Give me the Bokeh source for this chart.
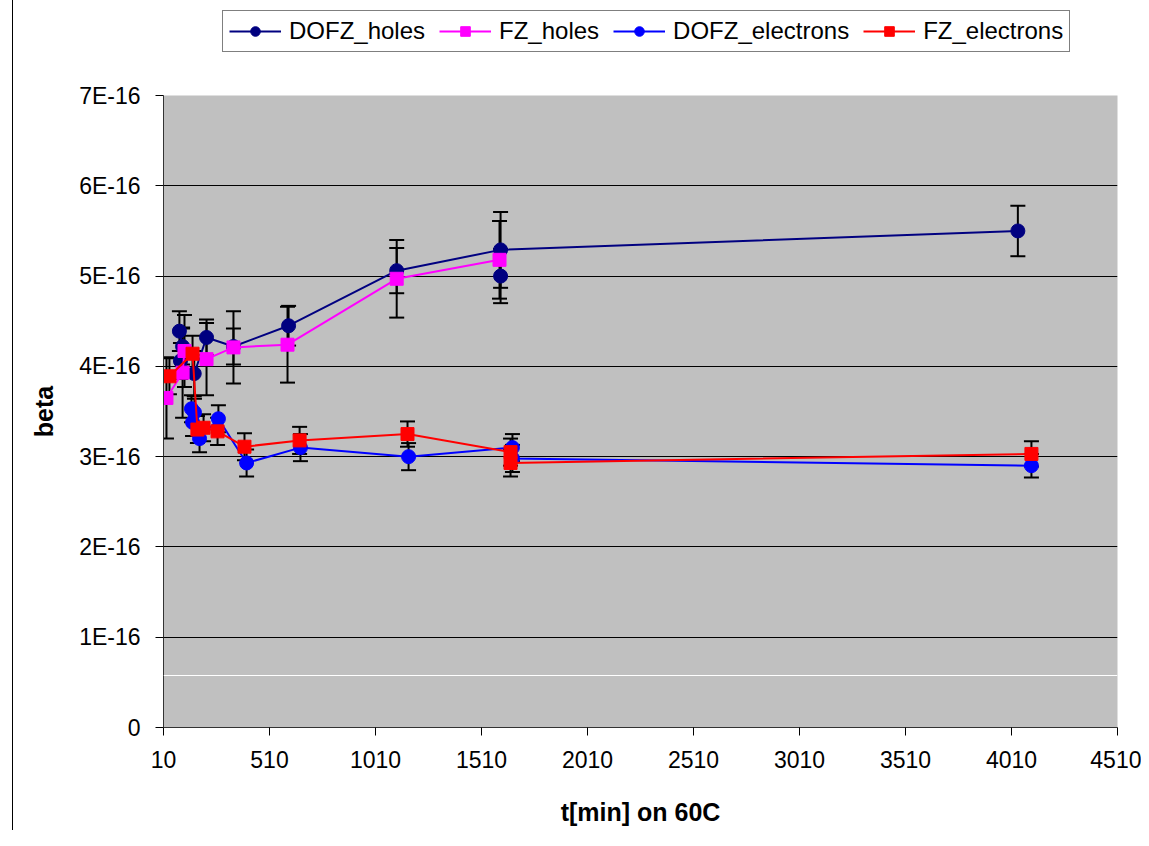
import numpy as np
from bokeh.plotting import figure
from bokeh.layouts import column
from bokeh.models import (ColumnDataSource, Whisker, TeeHead, FixedTicker,
                          CustomJSTickFormatter, Legend, LegendItem, Span)
from bokeh.embed import file_html
from bokeh.resources import INLINE

# ---- data (beta in units of 1E-16) ----
dofz_holes_t    = [85, 100, 90, 155, 213, 340, 600, 1110, 1600, 4040, 1600]
dofz_holes_beta = [4.39, 4.22, 4.06, 3.92, 4.32, 4.22, 4.45, 5.06, 5.29, 5.50, 5.00]
dofz_holes_err  = [0.22, 0.2, 0.2, 0.25, 0.2, 0.2, 0.22, 0.25, 0.42, 0.28, 0.3]
dofz_holes_connected = 10  # last point is not joined by the line

fz_holes_t    = [24, 100, 109, 213, 340, 595, 1110, 1595]
fz_holes_beta = [3.65, 3.93, 4.17, 4.08, 4.21, 4.24, 4.97, 5.18]
fz_holes_err  = [0.45, 0.5, 0.4, 0.4, 0.4, 0.42, 0.43, 0.43]

dofz_el_t    = [142, 156, 147, 180, 269, 402, 656, 1166, 1656, 1656, 4104]
dofz_el_beta = [3.53, 3.49, 3.38, 3.20, 3.42, 2.93, 3.10, 3.00, 3.10, 2.98, 2.90]
dofz_el_err  = [0.15, 0.15, 0.15, 0.15, 0.15, 0.15, 0.15, 0.15, 0.15, 0.15, 0.13]

fz_el_t    = [38, 147, 170, 199, 265, 392, 652, 1161, 1647, 1647, 4104]
fz_el_beta = [3.89, 4.14, 3.30, 3.32, 3.28, 3.11, 3.18, 3.25, 3.05, 2.93, 3.03]
fz_el_err  = [0.2, 0.2, 0.15, 0.15, 0.15, 0.15, 0.15, 0.14, 0.15, 0.15, 0.14]

x_ticks = [10, 510, 1010, 1510, 2010, 2510, 3010, 3510, 4010, 4510]
y_ticks = [0, 1, 2, 3, 4, 5, 6, 7]
stray_line_y = 0.576

FONT = "Liberation Sans"
EDGE = {"background": "linear-gradient(to right, white 12px, black 12px, black 13px, white 13px)"}

# ---- legend strip (separate canvas above the chart; its frame aligns with the chart's) ----
leg_fig = figure(width=1141, height=60, output_backend="svg", toolbar_location=None,
                 x_range=(-1, 0), y_range=(-1, 0), x_axis_type=None, y_axis_type=None,
                 min_border=0, min_border_left=0, min_border_right=0,
                 min_border_top=0, min_border_bottom=0)
leg_fig.outline_line_color = None
leg_fig.background_fill_color = None
leg_fig.border_fill_color = None
leg_fig.styles = EDGE

# ---- main chart ----
p = figure(width=1141, height=770, output_backend="svg", toolbar_location=None,
           x_range=(10, 4510), y_range=(0, 7),
           min_border_left=163, min_border_right=24, min_border_top=35,
           min_border_bottom=103)
p.background_fill_color = "#C0C0C0"
p.border_fill_color = None
p.outline_line_color = None
p.styles = EDGE

p.xaxis.ticker = FixedTicker(ticks=x_ticks)
p.yaxis.ticker = FixedTicker(ticks=y_ticks)
p.yaxis.formatter = CustomJSTickFormatter(code="return tick == 0 ? '0' : tick.toFixed(0) + 'E-16';")
for ax in (p.xaxis, p.yaxis):
    ax.major_label_text_font = FONT
    ax.major_label_text_font_size = "23px"
    ax.major_label_text_color = "black"
    ax.axis_label_text_font = FONT
    ax.axis_label_text_font_size = "25px"
    ax.axis_label_text_font_style = "bold"
    ax.axis_label_text_color = "black"
    ax.minor_tick_line_color = None
    ax.major_tick_in = 0
    ax.major_tick_out = 8
    ax.major_tick_line_color = "black"
    ax.axis_line_color = "#333333"
p.xaxis.axis_label = "t[min] on 60C"
p.yaxis.axis_label = "beta"
p.xaxis.major_label_standoff = 15
p.yaxis.major_label_standoff = 15
p.xaxis.axis_label_standoff = 27
p.yaxis.axis_label_standoff = 18
p.xgrid.grid_line_color = None
p.ygrid.grid_line_color = "black"
p.ygrid.grid_line_width = 1

p.add_layout(Span(location=stray_line_y, dimension="width", line_color="white", line_width=1))

series = [
    (dofz_holes_t, dofz_holes_beta, dofz_holes_err, "#000080", "circle", 14, "DOFZ_holes", dofz_holes_connected),
    (fz_holes_t, fz_holes_beta, fz_holes_err, "#FF00FF", "square", 13, "FZ_holes", None),
    (dofz_el_t, dofz_el_beta, dofz_el_err, "#0000FF", "circle", 14, "DOFZ_electrons", None),
    (fz_el_t, fz_el_beta, fz_el_err, "#FF0000", "square", 13, "FZ_electrons", None),
]

# error bars first
for t, b, e, col, mk, sz, name, nconn in series:
    b = np.array(b); e = np.array(e)
    src = ColumnDataSource(dict(t=t, up=b + e, lo=b - e))
    w = Whisker(base="t", upper="up", lower="lo", source=src,
                line_color="black", line_width=2,
                upper_head=TeeHead(size=15, line_color="black", line_width=2),
                lower_head=TeeHead(size=15, line_color="black", line_width=2))
    p.add_layout(w)

items = []
for t, b, e, col, mk, sz, name, nconn in series:
    n = len(t) if nconn is None else nconn
    p.line(t[:n], b[:n], line_color=col, line_width=2)
    p.scatter(t, b, marker=mk, size=sz, fill_color=col, line_color=col)
    # legend swatches in the legend strip (same series, outside that strip's visible range)
    l1 = leg_fig.line(t[:n], b[:n], line_color=col, line_width=2)
    l2 = leg_fig.scatter(t, b, marker=mk, size=sz, fill_color=col, line_color=col)
    items.append(LegendItem(label=name, renderers=[l1, l2]))

legend = Legend(items=items, orientation="horizontal", location=(59, 8),
                label_text_font=FONT, label_text_font_size="24px",
                label_text_color="black", border_line_color="black",
                border_line_width=1.5, background_fill_color="white",
                background_fill_alpha=1, padding=6, spacing=14,
                glyph_width=52, glyph_height=24, label_standoff=8, margin=0)
leg_fig.add_layout(legend, "center")

layout = column(leg_fig, p, spacing=0)
open("out.html", "w").write(file_html(layout, INLINE))
